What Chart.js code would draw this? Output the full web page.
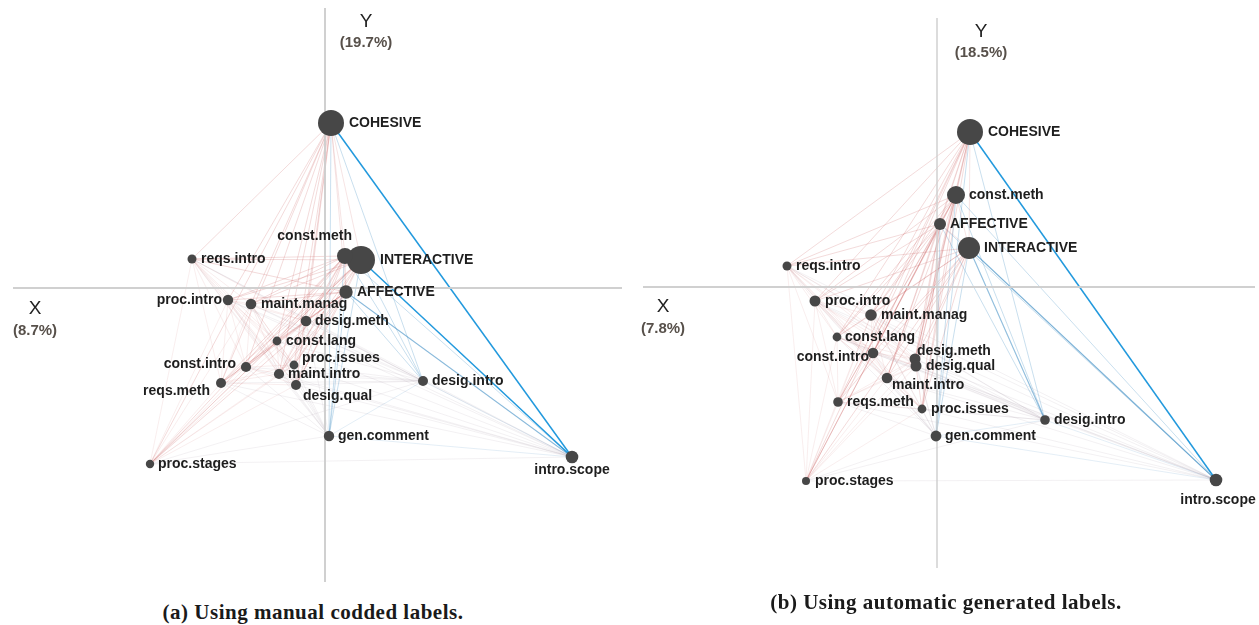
<!DOCTYPE html>
<html>
<head>
<meta charset="utf-8">
<script src="https://cdn.jsdelivr.net/npm/chart.js@4.4.0/dist/chart.umd.min.js"></script>
<style>
  html, body { margin: 0; padding: 0; background: #ffffff; }
  body { position: relative; width: 1259px; height: 625px; overflow: hidden; }
  canvas { position: absolute; top: 0; }
  #mapA { left: 0; }
  #mapB { left: 630px; }
  .caption {
    position: absolute;
    font-family: "Liberation Serif", "Times New Roman", serif;
    font-weight: bold;
    font-size: 21px;
    letter-spacing: 0.5px;
    color: #1a1a1a;
    white-space: nowrap;
    transform: translate(-50%, -50%);
  }
</style>
</head>
<body>
<canvas id="mapA" width="628" height="590"></canvas>
<canvas id="mapB" width="629" height="590"></canvas>
<div class="caption" style="left:313px; top:612px;">(a) Using manual codded labels.</div>
<div class="caption" style="left:946px; top:602px;">(b) Using automatic generated labels.</div>

<script>
// Attributes shown on both maps
const nodeNames = [
  'COHESIVE', 'INTERACTIVE', 'AFFECTIVE', 'const.meth', 'reqs.intro', 'proc.intro',
  'maint.manag', 'desig.meth', 'const.lang', 'const.intro', 'proc.issues', 'maint.intro',
  'reqs.meth', 'desig.qual', 'desig.intro', 'gen.comment', 'proc.stages', 'intro.scope'
];

// (a) manual coded labels: coordinates on the first two dimensions
const dim1A = [0.06, 0.36, 0.21, 0.20, -1.33, -0.97, -0.74, -0.19, -0.48, -0.79, -0.31, -0.46, -1.04, -0.29, 0.98, 0.04, -1.75, 2.47];
const dim2A = [1.65, 0.28, -0.04, 0.32, 0.29, -0.12, -0.16, -0.33, -0.53, -0.79, -0.77, -0.86, -0.95, -0.97, -0.93, -1.48, -1.76, -1.69];

// (b) automatically generated labels
const dim1B = [0.33, 0.32, 0.03, 0.19, -1.50, -1.22, -0.66, -0.22, -1.00, -0.64, -0.15, -0.50, -0.99, -0.21, 1.08, -0.01, -1.31, 2.79];
const dim2B = [1.55, 0.39, 0.63, 0.92, 0.21, -0.14, -0.28, -0.72, -0.50, -0.66, -1.22, -0.91, -1.15, -0.79, -1.33, -1.49, -1.94, -1.93];

// explained inertia of each dimension (%)
const inertiaA = [8.7, 19.7];
const inertiaB = [7.8, 18.5];

// node role in the link network
const roleA = ['hub', 'hub', 'hub', 'hub', 'left', 'left', 'left', 'left', 'left', 'left', 'left', 'left', 'left', 'left', 'right', 'right', 'left', 'right'];
const roleB = ['hub', 'hub', 'hub', 'hub', 'left', 'left', 'left', 'left', 'left', 'left', 'left', 'left', 'left', 'left', 'right', 'right', 'left', 'right'];

// strongest links: [from, to, strength 0..1]
const strongLinksA = [['COHESIVE', 'intro.scope', 1.0], ['INTERACTIVE', 'intro.scope', 0.95], ['AFFECTIVE', 'intro.scope', 0.45]];
const strongLinksB = [['COHESIVE', 'intro.scope', 1.0], ['INTERACTIVE', 'intro.scope', 0.55], ['INTERACTIVE', 'desig.intro', 0.4]];

// ---------- styling (kept apart from the data) ----------
const radiusA = [13, 14, 6.7, 8, 4.5, 5.2, 5.3, 5.3, 4.4, 5.1, 4.4, 5.1, 5, 5, 5, 5.2, 4.2, 6.3];
const radiusB = [13, 11, 6, 9, 4.5, 5.5, 5.8, 5.5, 4.4, 5.3, 4.4, 5.3, 4.8, 5.5, 4.8, 5.4, 4, 6.3];

// label anchor offsets from the node centre: [dx, dy, align]
const labelPosA = [
  [18, 0, 'left'], [19, 0, 'left'], [11, 0, 'left'], [7, -20, 'right'], [9, 0, 'left'], [-6, 0, 'right'],
  [10, 0, 'left'], [9, 0, 'left'], [9, 0, 'left'], [-10, -3, 'right'], [8, -7, 'left'], [9, 0, 'left'],
  [-11, 8, 'right'], [7, 11, 'left'], [9, 0, 'left'], [9, 0, 'left'], [8, 0, 'left'], [0, 13, 'center']
];
const labelPosB = [
  [18, 0, 'left'], [15, 0, 'left'], [10, 0, 'left'], [13, 0, 'left'], [9, 0, 'left'], [10, 0, 'left'],
  [10, 0, 'left'], [2, -8, 'left'], [8, 0, 'left'], [-4, 4, 'right'], [9, 0, 'left'], [5, 7, 'left'],
  [9, 0, 'left'], [10, 0, 'left'], [9, 0, 'left'], [9, 0, 'left'], [9, 0, 'left'], [2, 20, 'center']
];

const NODE_COLOR = '#474747';
const LABEL_FONT = 'bold 14px "Liberation Sans", Arial, sans-serif';

const linkStyle = {
  'hub-hub':     'rgba(200, 90, 90, 0.16)',
  'hub-left':    'rgba(200, 90, 90, 0.22)',
  'hub-right':   'rgba(60, 140, 195, 0.28)',
  'left-left':   'rgba(200, 100, 100, 0.11)',
  'left-right':  'rgba(160, 140, 160, 0.12)',
  'right-right': 'rgba(90, 150, 200, 0.16)'
};
function linkColor(a, b) {
  const order = ['hub', 'left', 'right'];
  const k = order.indexOf(a) <= order.indexOf(b) ? a + '-' + b : b + '-' + a;
  return linkStyle[k];
}

// draws the link network, the point labels and the axis titles
function makeOverlay(p) {
  return {
    id: 'overlay',
    beforeDatasetsDraw(chart) {
      const { ctx, scales: { x, y } } = chart;
      const n = nodeNames.length;
      const px = i => x.getPixelForValue(p.dim1[i]);
      const py = i => y.getPixelForValue(p.dim2[i]);
      ctx.save();
      ctx.lineWidth = 1;
      for (let i = 0; i < n; i++) {
        for (let j = i + 1; j < n; j++) {
          ctx.strokeStyle = linkColor(p.role[i], p.role[j]);
          ctx.beginPath();
          ctx.moveTo(px(i), py(i));
          ctx.lineTo(px(j), py(j));
          ctx.stroke();
        }
      }
      p.strong.forEach(([a, b, s]) => {
        const i = nodeNames.indexOf(a), j = nodeNames.indexOf(b);
        ctx.strokeStyle = s > 0.9 ? 'rgba(25, 150, 220, 0.95)' : `rgba(60, 140, 195, ${s})`;
        ctx.lineWidth = s > 0.9 ? 1.5 : 1.2;
        ctx.beginPath();
        ctx.moveTo(px(i), py(i));
        ctx.lineTo(px(j), py(j));
        ctx.stroke();
      });
      ctx.restore();
    },
    afterDatasetsDraw(chart) {
      const { ctx, scales: { x, y } } = chart;
      ctx.save();
      ctx.font = LABEL_FONT;
      ctx.fillStyle = '#1e1e1e';
      ctx.textBaseline = 'middle';
      nodeNames.forEach((name, i) => {
        const [dx, dy, align] = p.labelPos[i];
        ctx.textAlign = align;
        ctx.fillText(name, x.getPixelForValue(p.dim1[i]) + dx, y.getPixelForValue(p.dim2[i]) + dy);
      });

      // axis titles
      const ox = x.getPixelForValue(0), oy = y.getPixelForValue(0);
      ctx.textAlign = 'center';
      ctx.font = '19px "Liberation Sans", Arial, sans-serif';
      ctx.fillStyle = '#222';
      ctx.fillText('Y', ox + p.yTitle[0], p.yTitle[1]);
      ctx.fillText('X', p.xTitle[0], oy + p.xTitle[1]);
      ctx.font = 'bold 15px "Liberation Sans", Arial, sans-serif';
      ctx.fillStyle = '#57504a';
      ctx.fillText('(' + p.inertia[1].toFixed(1) + '%)', ox + p.yTitle[0], p.yTitle[1] + 21);
      ctx.fillText('(' + p.inertia[0].toFixed(1) + '%)', p.xTitle[0], oy + p.xTitle[1] + 22);
      ctx.restore();
    }
  };
}

function buildMap(canvasId, p) {
  const points = p.dim1.map((v, i) => ({ x: v, y: p.dim2[i] }));
  new Chart(document.getElementById(canvasId), {
    type: 'scatter',
    data: {
      datasets: [
        {
          label: 'dim1-axis', showLine: true, pointRadius: 0,
          data: [{ x: p.xRange[0], y: 0 }, { x: p.xRange[1], y: 0 }],
          borderColor: 'rgba(205, 205, 205, 0.95)', borderWidth: 2, order: 3
        },
        {
          label: 'dim2-axis', showLine: true, pointRadius: 0,
          data: [{ x: 0, y: p.yRange[0] }, { x: 0, y: p.yRange[1] }],
          borderColor: 'rgba(205, 205, 205, 0.95)', borderWidth: p.axisW, order: 2
        },
        {
          label: 'attributes', data: points,
          pointRadius: p.radius, pointHoverRadius: p.radius,
          backgroundColor: NODE_COLOR, borderColor: NODE_COLOR, borderWidth: 0, order: 1
        }
      ]
    },
    options: {
      responsive: false,
      animation: false,
      events: [],
      layout: { padding: 0, autoPadding: false },
      plugins: { legend: { display: false }, tooltip: { enabled: false } },
      scales: {
        x: { type: 'linear', display: false, min: p.view[0], max: p.view[1] },
        y: { type: 'linear', display: false, min: p.view[2], max: p.view[3] }
      }
    },
    plugins: [makeOverlay(p)]
  });
}

buildMap('mapA', {
  dim1: dim1A, dim2: dim2A, role: roleA, strong: strongLinksA, radius: radiusA,
  labelPos: labelPosA, inertia: inertiaA,
  view: [-3.25, 3.03, -3.02, 2.88],
  xRange: [-3.12, 2.97], yRange: [-2.94, 2.80], axisW: 2,
  yTitle: [41, 22], xTitle: [35, 21]
});

buildMap('mapB', {
  dim1: dim1B, dim2: dim2B, role: roleB, strong: strongLinksB, radius: radiusB,
  labelPos: labelPosB, inertia: inertiaB,
  view: [-3.07, 3.22, -3.03, 2.87],
  xRange: [-2.94, 3.18], yRange: [-2.81, 2.69], axisW: 1.5,
  yTitle: [44, 32], xTitle: [33, 20]
});
</script>
</body>
</html>
